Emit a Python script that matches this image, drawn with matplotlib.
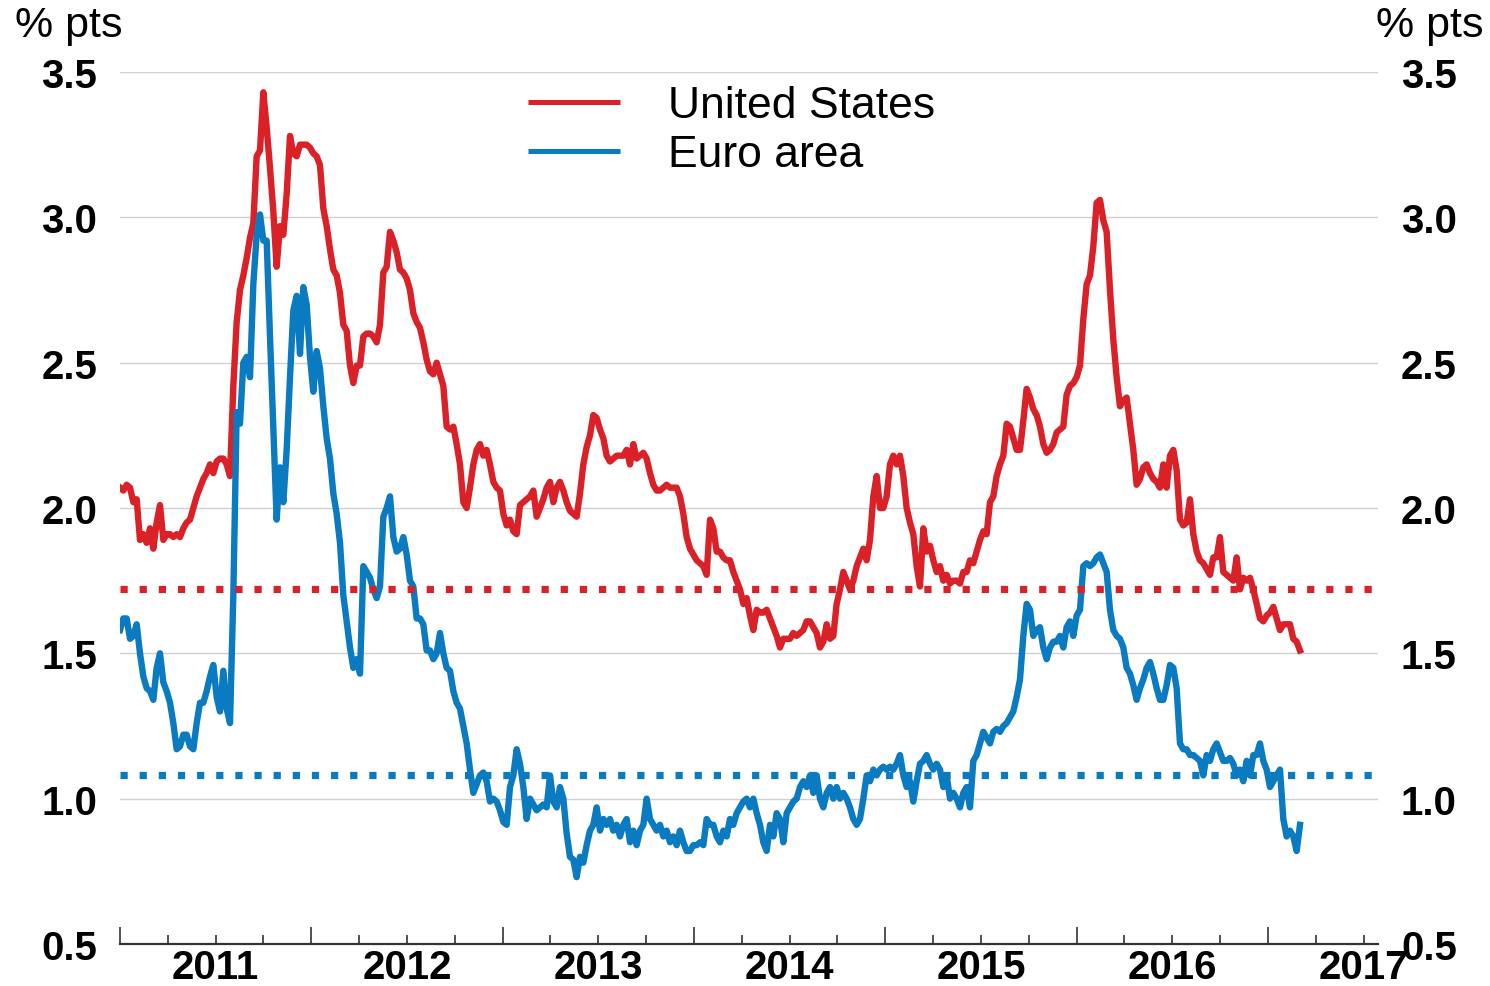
import numpy as np
import matplotlib
matplotlib.use("Agg")
import matplotlib.pyplot as plt
from matplotlib.lines import Line2D
from matplotlib.transforms import blended_transform_factory

plt.rcParams['font.family'] = ['Liberation Sans', 'DejaVu Sans']
plt.rcParams['font.weight'] = 'bold'

# ---------------- data (spreads, % pts), sampled ~every 6.4 days from Jan 2011 ----------------
START_YEAR = 2011
SAMPLES_PER_YEAR = 57.4

united_states = [
    2.07, 2.06, 2.08, 2.07, 2.02, 2.03, 1.89, 1.91, 1.88, 1.93,
    1.86, 1.95, 2.01, 1.89, 1.91, 1.91, 1.90, 1.91, 1.90, 1.93,
    1.95, 1.96, 2.00, 2.04, 2.07, 2.10, 2.12, 2.15, 2.12, 2.16,
    2.17, 2.17, 2.15, 2.11, 2.42, 2.64, 2.75, 2.80, 2.86, 2.93,
    2.98, 3.21, 3.23, 3.43, 3.31, 3.17, 3.02, 2.83, 2.97, 2.94,
    3.08, 3.28, 3.22, 3.21, 3.25, 3.25, 3.25,
    3.24, 3.22, 3.21, 3.18, 3.03, 2.97, 2.89, 2.82, 2.80, 2.74,
    2.63, 2.61, 2.49, 2.43, 2.49, 2.49, 2.59, 2.60, 2.60, 2.59,
    2.57, 2.63, 2.81, 2.83, 2.95, 2.92, 2.88, 2.82, 2.81, 2.79,
    2.75, 2.67, 2.64, 2.62, 2.57, 2.51, 2.47, 2.46, 2.50, 2.46,
    2.42, 2.28, 2.27, 2.28, 2.22, 2.15, 2.02, 2.00, 2.07, 2.15,
    2.20, 2.22, 2.18, 2.20, 2.15, 2.09, 2.07, 2.06, 1.98, 1.94,
    1.96, 1.92, 1.91, 2.01, 2.02, 2.03, 2.04, 2.06, 1.97, 2.00,
    2.03, 2.07, 2.09, 2.02, 2.07, 2.09, 2.06, 2.02, 1.99, 1.98,
    1.97, 2.05, 2.15, 2.21, 2.25, 2.32, 2.31, 2.27, 2.24, 2.18,
    2.16, 2.17, 2.18, 2.18, 2.18, 2.20, 2.15, 2.22, 2.17, 2.18,
    2.19, 2.17, 2.12, 2.08, 2.06, 2.06, 2.07, 2.08, 2.07, 2.07,
    2.07, 2.04, 1.98, 1.90, 1.86, 1.84, 1.82, 1.81, 1.80, 1.77,
    1.96, 1.93, 1.85, 1.85, 1.83, 1.82, 1.82, 1.78, 1.75, 1.72,
    1.67, 1.69, 1.63, 1.58, 1.65, 1.64, 1.64, 1.65, 1.62, 1.59,
    1.56, 1.52, 1.55, 1.55, 1.55, 1.57, 1.56, 1.57, 1.58, 1.61,
    1.61, 1.59, 1.57, 1.52, 1.54, 1.60, 1.55, 1.56, 1.67, 1.72,
    1.78, 1.75, 1.72, 1.75, 1.80, 1.83, 1.86, 1.82, 1.89, 2.04,
    2.11, 2.00, 2.00, 2.04, 2.15, 2.18, 2.15, 2.18, 2.11, 2.00,
    1.95, 1.91, 1.80, 1.73, 1.93, 1.85, 1.87, 1.82, 1.78, 1.80,
    1.75, 1.77, 1.74, 1.75, 1.75, 1.74, 1.78, 1.78, 1.82, 1.81,
    1.85, 1.89, 1.92, 1.91, 2.02, 2.04, 2.11, 2.15, 2.18, 2.29,
    2.28, 2.24, 2.20, 2.20, 2.30, 2.41, 2.38, 2.34, 2.32, 2.28,
    2.22, 2.19, 2.20, 2.22, 2.26, 2.27, 2.28, 2.39, 2.42, 2.43,
    2.45, 2.49, 2.65, 2.77, 2.80, 2.90, 3.05, 3.06, 2.99, 2.95,
    2.75, 2.58, 2.45, 2.35, 2.37, 2.38, 2.29, 2.20, 2.08, 2.10,
    2.14, 2.15, 2.12, 2.10, 2.09, 2.07, 2.15, 2.07, 2.18, 2.20,
    2.13, 1.96, 1.94, 1.95, 2.03, 1.91, 1.85, 1.82, 1.81, 1.79,
    1.77, 1.83, 1.83, 1.90, 1.78, 1.77, 1.76, 1.75, 1.83, 1.72,
    1.76, 1.75, 1.76, 1.72, 1.67, 1.62, 1.61, 1.63, 1.64, 1.66,
    1.62, 1.58, 1.60, 1.60, 1.60, 1.55, 1.54, 1.51,
]

euro_area = [
    1.58, 1.62, 1.62, 1.55, 1.56, 1.60, 1.50, 1.42, 1.38, 1.37,
    1.34, 1.45, 1.50, 1.40, 1.37, 1.33, 1.26, 1.17, 1.18, 1.22,
    1.22, 1.18, 1.17, 1.26, 1.33, 1.33, 1.37, 1.42, 1.46, 1.35,
    1.30, 1.44, 1.31, 1.26, 1.70, 2.33, 2.29, 2.50, 2.52, 2.45,
    2.77, 2.94, 3.01, 2.92, 2.92, 2.59, 2.28, 1.96, 2.14, 2.02,
    2.20, 2.45, 2.68, 2.73, 2.53, 2.76, 2.70,
    2.52, 2.40, 2.54, 2.48, 2.35, 2.24, 2.17, 2.05, 1.98, 1.88,
    1.70, 1.61, 1.52, 1.45, 1.48, 1.43, 1.80, 1.78, 1.76, 1.72,
    1.69, 1.73, 1.97, 2.00, 2.04, 1.90, 1.85, 1.86, 1.90, 1.84,
    1.75, 1.73, 1.62, 1.62, 1.60, 1.51, 1.51, 1.48, 1.50, 1.57,
    1.50, 1.45, 1.44, 1.37, 1.33, 1.31, 1.25, 1.19, 1.10, 1.02,
    1.05, 1.08, 1.09, 1.06, 0.99, 1.00, 0.99, 0.96, 0.92, 0.91,
    1.04, 1.08, 1.17, 1.12, 1.04, 0.93, 1.00, 0.98, 0.96, 0.97,
    0.98, 0.97, 1.08, 0.99, 0.97, 1.04, 1.00, 0.88, 0.80, 0.79,
    0.73, 0.80, 0.78, 0.84, 0.89, 0.91, 0.97, 0.89, 0.93, 0.91,
    0.93, 0.89, 0.91, 0.87, 0.91, 0.93, 0.85, 0.89, 0.84, 0.89,
    0.91, 1.00, 0.93, 0.91, 0.89, 0.91, 0.87, 0.89, 0.85, 0.87,
    0.84, 0.89, 0.85, 0.82, 0.82, 0.84, 0.84, 0.85, 0.84, 0.93,
    0.91, 0.91, 0.87, 0.85, 0.89, 0.87, 0.93, 0.91, 0.95, 0.97,
    0.99, 1.00, 0.97, 1.00, 0.95, 0.91, 0.85, 0.82, 0.91, 0.87,
    0.95, 0.93, 0.85, 0.95, 0.97, 0.99, 1.00, 1.04, 1.06, 1.04,
    1.08, 1.02, 1.08, 1.00, 0.97, 1.02, 1.04, 1.00, 1.04, 1.00,
    1.02, 1.00, 0.97, 0.93, 0.91, 0.93, 1.00, 1.08, 1.06, 1.10,
    1.08, 1.10, 1.11, 1.10, 1.11, 1.10, 1.12, 1.15, 1.08, 1.04,
    1.06, 0.99, 1.06, 1.12, 1.13, 1.15, 1.12, 1.10, 1.12, 1.10,
    1.04, 1.08, 1.00, 1.02, 1.00, 0.97, 1.02, 1.04, 0.97, 1.13,
    1.15, 1.19, 1.23, 1.21, 1.19, 1.23, 1.24, 1.23, 1.25, 1.26,
    1.28, 1.30, 1.35, 1.41, 1.56, 1.67, 1.65, 1.56, 1.58, 1.59,
    1.52, 1.48, 1.52, 1.54, 1.54, 1.56, 1.52, 1.59, 1.61, 1.56,
    1.63, 1.65, 1.80, 1.81, 1.80, 1.81, 1.83, 1.84, 1.81, 1.78,
    1.65, 1.58, 1.56, 1.55, 1.52, 1.45, 1.43, 1.39, 1.34, 1.38,
    1.41, 1.45, 1.47, 1.43, 1.38, 1.34, 1.34, 1.39, 1.46, 1.45,
    1.38, 1.19, 1.17, 1.17, 1.15, 1.15, 1.14, 1.13, 1.08, 1.15,
    1.13, 1.17, 1.19, 1.16, 1.13, 1.13, 1.14, 1.12, 1.08, 1.10,
    1.06, 1.13, 1.08, 1.15, 1.15, 1.19, 1.13, 1.10, 1.04, 1.06,
    1.08, 1.10, 0.93, 0.87, 0.89, 0.87, 0.82, 0.91,
]

us_average = 1.72
ea_average = 1.08

year_labels = [2011, 2012, 2013, 2014, 2015, 2016, 2017]
y_ticks = [0.5, 1.0, 1.5, 2.0, 2.5, 3.0, 3.5]
series_names = ["United States", "Euro area"]

RED = "#DA2128"
BLUE = "#0A7BC1"

# ---------------- figure ----------------
W, H = 1490, 987
fig = plt.figure(figsize=(W / 100, H / 100), dpi=100)
ax = fig.add_axes([120 / W, 1 - 945 / H, 1258 / W, 872 / H])

n = min(len(united_states), len(euro_area))
dates = START_YEAR + np.arange(n) / SAMPLES_PER_YEAR

ax.plot(dates, united_states[:n], color=RED, lw=4.6, zorder=3)
ax.plot(dates, euro_area[:n], color=BLUE, lw=4.6, zorder=3.5)

ax.axhline(us_average, color=RED, lw=5.2, linestyle=(0, (1, 1.65)), zorder=4)
ax.axhline(ea_average, color=BLUE, lw=5.2, linestyle=(0, (1, 1.65)), zorder=4)

ax.set_xlim(2011, 2011 + 1258 / 191.33)
ax.set_ylim(0.5, 3.5)

for s in ("top", "left", "right"):
    ax.spines[s].set_visible(False)
ax.spines["bottom"].set_linewidth(1.6)
ax.spines["bottom"].set_color("#333333")

ax.set_yticks(y_ticks)
ax.set_yticklabels([f"{v:.1f}" for v in y_ticks])
ax.yaxis.grid(True, color="#d0d0d0", lw=1.0)
ax.set_axisbelow(True)
ax.tick_params(axis="y", length=0, labelsize=29, pad=16.5,
               labelleft=True, labelright=True)

xmax = ax.get_xlim()[1]
ax.set_xticks(year_labels)
minor = [y + q / 4 for y in year_labels for q in (1, 2, 3) if y + q / 4 < xmax]
ax.set_xticks(minor, minor=True)
ax.tick_params(axis="x", which="major", direction="in", length=12, width=1.2,
               color="#333333", labelbottom=False)
ax.tick_params(axis="x", which="minor", direction="in", length=6.5, width=1.2,
               color="#333333", labelbottom=False)

trans = blended_transform_factory(ax.transData, ax.transAxes)
for y in year_labels:
    ax.text(y + 0.5, (945 - 979) / 872, str(y), transform=trans, ha="center",
            va="baseline", fontsize=29, fontweight="bold", clip_on=False)

fig.text(15 / W, 1 - 37 / H, "% pts", ha="left", va="baseline",
         fontsize=31, fontweight="normal")
fig.text(1483 / W, 1 - 37 / H, "% pts", ha="right", va="baseline",
         fontsize=31, fontweight="normal")

# legend
def ax_x(px):
    return (px - 120) / 1258

def ax_y(py):
    return (945 - py) / 872

for name, col, ly, ty in [(series_names[0], RED, 103, 118), (series_names[1], BLUE, 152, 167)]:
    ax.add_line(Line2D([ax_x(528), ax_x(620)], [ax_y(ly), ax_y(ly)],
                       transform=ax.transAxes, color=col, lw=3.6,
                       solid_capstyle="butt", clip_on=False))
    ax.text(ax_x(668), ax_y(ty), name, transform=ax.transAxes, ha="left",
            va="baseline", fontsize=32, fontweight="normal")

fig.savefig("out.png", dpi=100)
